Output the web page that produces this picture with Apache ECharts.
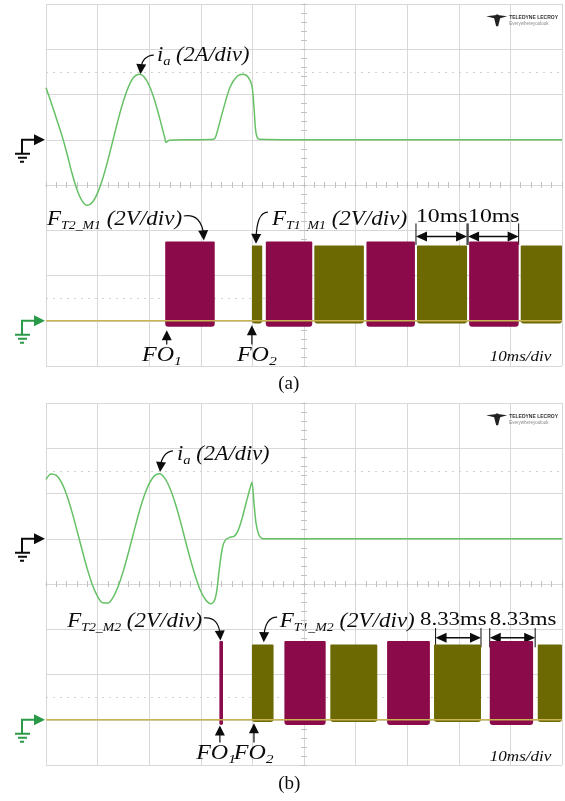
<!DOCTYPE html>
<html>
<head>
<meta charset="utf-8">
<title>Fault operation waveforms</title>
<script src="https://cdn.jsdelivr.net/npm/echarts@6/dist/echarts.min.js"></script>
<style>
  html, body { margin: 0; padding: 0; background: #fff; }
  #chart { width: 565px; height: 801px; }
</style>
</head>
<body>
<div id="chart"></div>
<script>
// Scope screen: 10 ms/div, i_a at 2 A/div, gate signals at 2 V/div.

// panel (a): phase current i_a [ms, A]
const iaA = [
  [0, 2.3], [1, 1.65], [2, 0.95], [3, 0.25], [4, -0.55], [5, -1.45], [6, -2.2], [7, -2.7], [8, -2.9],
  [9, -2.76], [10, -2.35], [11, -1.71], [12, -0.9], [13, 0.0], [14, 0.9], [15, 1.71], [16, 2.35],
  [17, 2.76], [18.1, 2.9], [19, 2.78], [20, 2.4], [21, 1.78], [22, 0.98], [23, 0.1], [23.3, -0.12],
  [23.9, -0.02], [28, 0.0], [32.5, 0.02], [32.9, 0.14], [34.3, 1.3], [35.7, 2.34], [37.1, 2.82],
  [38.2, 2.9], [39.2, 2.76], [39.9, 2.38], [40.3, 1.46], [40.7, 0.3], [41.3, 0.02], [50, 0],
  [60, 0], [70, 0], [80, 0], [90, 0], [100, 0]
];
// gate pulse bursts [start ms, end ms, low V, high V]
const ft2M1 = [[23.1, 32.7, -0.27, 3.5], [42.6, 51.6, -0.27, 3.5], [62.1, 71.5, -0.27, 3.5], [82.0, 91.6, -0.27, 3.5]];
const ft1M1 = [[39.9, 41.9, -0.12, 3.33], [52.0, 61.6, -0.12, 3.33], [71.9, 81.6, -0.12, 3.33], [92.0, 100, -0.12, 3.33]];

// panel (b)
const iaB = [
  [0, 2.62], [1, 2.86], [2, 2.8], [3, 2.49], [4, 1.94], [5, 1.21], [6, 0.37], [7, -0.5], [8, -1.33],
  [9, -2.04], [10, -2.55], [11, -2.83], [12, -2.84], [13, -2.59], [14, -2.1], [15, -1.41], [16, -0.59],
  [17, 0.28], [18, 1.14], [19, 1.88], [20, 2.44], [21, 2.78], [22, 2.87], [23, 2.68], [24, 2.24],
  [25, 1.6], [26, 0.81], [27, -0.07], [28, -0.92], [29, -1.7], [30, -2.32], [31, -2.72], [31.9, -2.87],
  [32.6, -2.75], [33.1, -2.3], [33.5, -1.5], [33.9, -0.8], [34.3, -0.3], [34.8, -0.05], [35.5, 0.05],
  [36.5, 0.12], [37.2, 0.35], [38.0, 0.9], [38.8, 1.6], [39.5, 2.2], [39.9, 2.5], [40.3, 1.6],
  [40.7, 0.7], [41.2, 0.2], [41.8, 0.02], [42.5, 0], [50, 0], [60, 0], [70, 0], [80, 0], [90, 0], [100, 0]
];
const ft2M2 = [[33.6, 34.3, -0.23, 3.48], [46.2, 54.2, -0.23, 3.48], [66.1, 74.4, -0.23, 3.48], [86.0, 94.4, -0.23, 3.48]];
const ft1M2 = [[39.9, 44.1, -0.1, 3.33], [55.1, 64.2, -0.1, 3.33], [75.2, 84.3, -0.1, 3.33], [95.3, 100, -0.1, 3.33]];

// idle level of the gate traces
const gateIdleA = [[0, 0], [100, 0]];
const gateIdleB = [[0, 0], [100, 0]];

// dotted level markers on screen
const iaLevel = 3;   // A
const gateLevel = 1; // V

const GREEN = '#66c166';
const MAGENTA = '#8b0b4a';
const OLIVE = '#6c6902';
const IDLE = '#c8b452';
const INK = '#0c0c0c';
const SERIF = '"Liberation Serif", "Times New Roman", serif';

const chart = echarts.init(document.getElementById('chart'));

const panels = [
  { top: 4, ia: iaA, t2: ft2M1, t1: ft1M1, idle: gateIdleA },
  { top: 403, ia: iaB, t2: ft2M2, t1: ft1M2, idle: gateIdleB }
];

function renderPulse(params, api) {
  const a = api.coord([api.value(0), api.value(3)]);
  const b = api.coord([api.value(1), api.value(2)]);
  return {
    type: 'rect',
    shape: { x: a[0], y: a[1], width: b[0] - a[0], height: b[1] - a[1], r: [1, 1, 3, 3] },
    style: { fill: api.visual('color') }
  };
}

const grid = [], xAxis = [], yAxis = [], series = [];
const gridLine = { show: true, lineStyle: { color: '#d8d8d8', width: 1 } };
const bare = { axisLine: { show: false, onZero: false }, axisTick: { show: false }, axisLabel: { show: false } };
const tickStyle = { color: '#c2c2c2', width: 1 };

panels.forEach((p, g) => {
  grid.push({ left: 46, top: p.top, width: 516, height: 362 });

  // time axis, then the centre cross axis (ticks both ways)
  xAxis.push({ gridIndex: g, type: 'value', min: 0, max: 100, interval: 10, ...bare, splitLine: gridLine });
  [true, false].forEach(inside => xAxis.push({
    gridIndex: g, type: 'value', min: -50, max: 50, interval: 10, position: 'bottom',
    axisLine: { show: true, onZero: true, onZeroAxisIndex: 4 * g + 2, lineStyle: { color: '#d8d8d8' } },
    axisTick: { show: true, inside, length: 3, lineStyle: tickStyle },
    minorTick: { show: true, splitNumber: 5, length: 3, lineStyle: tickStyle },
    axisLabel: { show: false }, splitLine: { show: false }
  }));

  yAxis.push({ gridIndex: g, type: 'value', min: -10, max: 6, interval: 2, ...bare, splitLine: gridLine });
  yAxis.push({ gridIndex: g, type: 'value', min: -2, max: 14, interval: 2, ...bare, splitLine: { show: false } });
  [true, false].forEach(inside => yAxis.push({
    gridIndex: g, type: 'value', min: -4, max: 4, interval: 1, position: 'left',
    axisLine: { show: true, onZero: true, onZeroAxisIndex: 3 * g + 1, lineStyle: { color: '#d8d8d8' } },
    axisTick: { show: true, inside, length: 3, lineStyle: tickStyle },
    minorTick: { show: true, splitNumber: 5, length: 3, lineStyle: tickStyle },
    axisLabel: { show: false }, splitLine: { show: false }
  }));

  const dotted = { color: '#d0d0d0', type: [2, 5], width: 1 };
  const level = value => ({
    silent: true, z: 1, symbol: 'none', label: { show: false }, lineStyle: dotted, data: [{ yAxis: value }]
  });

  series.push({
    type: 'line', xAxisIndex: 3 * g, yAxisIndex: 4 * g + 1, data: [], silent: true, z: 1,
    markLine: level(gateLevel)
  });
  series.push({
    type: 'line', xAxisIndex: 3 * g, yAxisIndex: 4 * g, data: p.ia, showSymbol: false, smooth: 0.3,
    lineStyle: { color: GREEN, width: 1.5 }, z: 3, silent: true,
    markLine: level(iaLevel)
  });
  [[p.t2, MAGENTA], [p.t1, OLIVE]].forEach(([data, color]) => series.push({
    type: 'custom', xAxisIndex: 3 * g, yAxisIndex: 4 * g + 1, data, renderItem: renderPulse,
    encode: { x: [0, 1], y: [2, 3] }, itemStyle: { color }, z: 4, silent: true
  }));
  series.push({
    type: 'line', xAxisIndex: 3 * g, yAxisIndex: 4 * g + 1, data: p.idle, showSymbol: false,
    lineStyle: { color: IDLE, width: 1.3 }, z: 5, silent: true
  });
});

chart.setOption({ animation: false, backgroundColor: '#fff', grid, xAxis, yAxis, series });

// ---- annotations, placed through the gate-signal axis of each panel ----
const toPx = (g, t, v) => chart.convertToPixel({ xAxisIndex: 3 * g, yAxisIndex: 4 * g + 1 }, [t, v]);
const measure = document.createElement('canvas').getContext('2d');

// parts: [text, size, baseline shift, italic]
function textRuns(g, t, v, parts, scaleX) {
  const [x, y] = toPx(g, t, v);
  let cx = 0;
  const children = parts.map(([text, size, dy, italic]) => {
    const fontStyle = italic === false ? 'normal' : 'italic';
    measure.font = `${fontStyle} ${size}px "Liberation Serif"`;
    const el = {
      type: 'text', x: cx, y: (dy || 0) + size * 0.18,
      style: { text, fontFamily: SERIF, fontSize: size, fontStyle, fill: INK, align: 'left', verticalAlign: 'bottom' }
    };
    cx += measure.measureText(text).width;
    return el;
  });
  return { type: 'group', x, y, scaleX: scaleX || 1, silent: true, children };
}

function head(tip, from, len, half) {
  len = len || 9; half = half || 4.5;
  const dx = tip[0] - from[0], dy = tip[1] - from[1], d = Math.hypot(dx, dy);
  const ux = dx / d, uy = dy / d;
  const bx = tip[0] - ux * len, by = tip[1] - uy * len;
  return {
    type: 'polygon', silent: true,
    shape: { points: [tip, [bx - uy * half, by + ux * half], [bx + uy * half, by - ux * half]] },
    style: { fill: INK }
  };
}

function curvedArrow(g, tail, ctrl, tip) {
  const a = toPx(g, ...tail), c = toPx(g, ...ctrl), b = toPx(g, ...tip);
  return [
    { type: 'bezierCurve', silent: true, shape: { x1: a[0], y1: a[1], cpx1: c[0], cpy1: c[1], x2: b[0], y2: b[1] - 4 },
      style: { stroke: INK, lineWidth: 1.2, fill: null } },
    head(b, c, 10, 5)
  ];
}

function upArrow(g, t, vTip, vTail) {
  const b = toPx(g, t, vTip), a = toPx(g, t, vTail);
  return [
    { type: 'line', silent: true, shape: { x1: a[0], y1: a[1], x2: b[0], y2: b[1] + 6 }, style: { stroke: INK, lineWidth: 1.2 } },
    head(b, a, 10, 5)
  ];
}

function spanArrow(g, t0, t1, v, vTop, vBot) {
  const a = toPx(g, t0, v), b = toPx(g, t1, v);
  const out = [
    { type: 'line', silent: true, shape: { x1: a[0] + 4, y1: a[1], x2: b[0] - 4, y2: b[1] }, style: { stroke: INK, lineWidth: 1.5 } },
    head(a, b, 11, 5), head(b, a, 11, 5)
  ];
  [t0, t1].forEach(t => {
    const p = toPx(g, t, vTop), q = toPx(g, t, vBot);
    out.push({ type: 'line', silent: true, shape: { x1: p[0], y1: p[1], x2: q[0], y2: q[1] }, style: { stroke: INK, lineWidth: 1 } });
  });
  return out;
}

function ground(g, axisIndex, color) {
  const [x, y] = chart.convertToPixel({ xAxisIndex: 3 * g, yAxisIndex: axisIndex }, [0, 0]);
  const ln = (x1, y1, x2, y2) => ({ type: 'line', shape: { x1, y1, x2, y2 }, style: { stroke: color, lineWidth: 2 } });
  return {
    type: 'group', x, y, silent: true,
    children: [
      { type: 'polyline', shape: { points: [[-24, 14], [-24, 0], [-11, 0]] }, style: { stroke: color, lineWidth: 2, fill: null } },
      { type: 'polygon', shape: { points: [[-12, -5.5], [-1, 0], [-12, 5.5]] }, style: { fill: color } },
      ln(-31, 14, -16, 14), ln(-28, 18, -19, 18), ln(-26, 22, -22, 22)
    ]
  };
}

function logo(g) {
  const [x, y] = toPx(g, 85.3, 13.55);
  const sans = '"Liberation Sans", Arial, sans-serif';
  return {
    type: 'group', x, y, silent: true,
    children: [
      { type: 'polygon', shape: { points: [[0, 2], [9, 1], [11, 0], [13, 1], [21, 2], [14, 4], [12, 12], [10, 12], [8, 4]] }, style: { fill: '#222' } },
      { type: 'text', x: 23, y: 1, style: { text: 'TELEDYNE LECROY', fontFamily: sans, fontSize: 5, fontWeight: 'bold', fill: '#333' } },
      { type: 'text', x: 23, y: 7.5, style: { text: 'Everywhereyoulook', fontFamily: sans, fontSize: 4.5, fill: '#888' } }
    ]
  };
}

const gfx = [];
const S = 20, s = 12;

// panel (a)
gfx.push(textRuns(0, 21.5, 11.43, [['i', S], ['a', 13, 4], [' (2A/div)', S]], 1.12));
gfx.push(...curvedArrow(0, [20.9, 11.74], [18.6, 11.72], [18.3, 10.9]));
gfx.push(textRuns(0, 0.2, 4.19, [['F', S], ['T2_M1', s, 4], [' (2V/div)', S]], 1.15));
gfx.push(...curvedArrow(0, [26.7, 4.63], [30.2, 4.75], [30.6, 3.55]));
gfx.push(textRuns(0, 43.8, 4.19, [['F', S], ['T1_M1', s, 4], [' (2V/div)', S]], 1.15));
gfx.push(...curvedArrow(0, [43.0, 4.8], [40.8, 4.8], [40.7, 3.4]));
gfx.push(textRuns(0, 71.7, 4.32, [['10ms', 19, 0, false]], 1.25));
gfx.push(textRuns(0, 81.8, 4.32, [['10ms', 19, 0, false]], 1.25));
gfx.push(...spanArrow(0, 71.7, 81.6, 3.72, 4.3, 3.35));
gfx.push(...spanArrow(0, 81.8, 91.6, 3.72, 4.3, 3.35));
gfx.push(...upArrow(0, 23.4, -0.42, -1.05));
gfx.push(...upArrow(0, 39.9, -0.2, -1.05));
gfx.push(textRuns(0, 18.6, -1.82, [['FO', S], ['1', 13, 4]], 1.2));
gfx.push(textRuns(0, 37.0, -1.82, [['FO', S], ['2', 13, 4]], 1.2));
gfx.push(textRuns(0, 86.0, -1.82, [['10ms/div', 14]], 1.22));
gfx.push(textRuns(0, 45.0, -3.06, [['(a)', 19, 0, false]], 1));
gfx.push(ground(0, 0, INK), ground(0, 1, '#2a9a48'), logo(0));

// panel (b)
gfx.push(textRuns(1, 25.4, 11.43, [['i', S], ['a', 13, 4], [' (2A/div)', S]], 1.12));
gfx.push(...curvedArrow(1, [24.6, 11.88], [22.5, 11.83], [22.1, 10.95]));
gfx.push(textRuns(1, 4.1, 4.05, [['F', S], ['T2_M2', s, 4], [' (2V/div)', S]], 1.15));
gfx.push(...curvedArrow(1, [30.6, 4.5], [33.5, 4.58], [33.8, 3.5]));
gfx.push(textRuns(1, 45.3, 4.05, [['F', S], ['T1_M2', s, 4], [' (2V/div)', S]], 1.15));
gfx.push(...curvedArrow(1, [44.8, 4.54], [42.4, 4.54], [42.2, 3.43]));
gfx.push(textRuns(1, 72.5, 4.14, [['8.33ms', 19, 0, false]], 1.2));
gfx.push(textRuns(1, 86.0, 4.14, [['8.33ms', 19, 0, false]], 1.2));
gfx.push(...spanArrow(1, 75.5, 84.3, 3.62, 4.05, 3.2));
gfx.push(...spanArrow(1, 86.0, 94.8, 3.62, 4.05, 3.2));
gfx.push(...upArrow(1, 33.7, -0.25, -1.0));
gfx.push(...upArrow(1, 40.3, -0.15, -1.0));
gfx.push(textRuns(1, 29.1, -1.78, [['FO', S], ['1', 13, 4]], 1.2));
gfx.push(textRuns(1, 36.4, -1.78, [['FO', S], ['2', 13, 4]], 1.2));
gfx.push(textRuns(1, 86.0, -1.86, [['10ms/div', 14]], 1.22));
gfx.push(textRuns(1, 45.0, -3.1, [['(b)', 19, 0, false]], 1));
gfx.push(ground(1, 4, INK), ground(1, 5, '#2a9a48'), logo(1));

chart.setOption({ graphic: gfx });
</script>
</body>
</html>
